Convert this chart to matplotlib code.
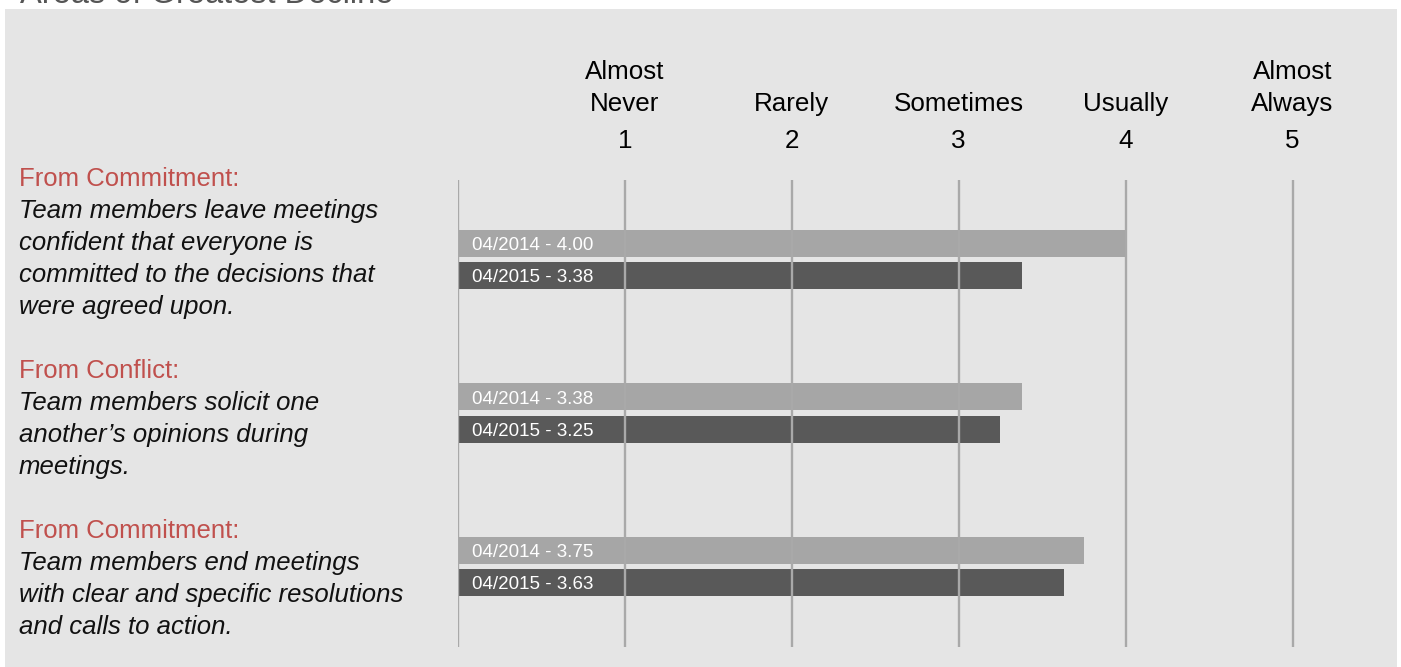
import matplotlib
matplotlib.use('Agg')
import matplotlib.pyplot as plt
from matplotlib.patches import Rectangle

plt.rcParams['font.family'] = ['Liberation Sans', 'DejaVu Sans']

# data
categories = ['From Commitment:', 'From Conflict:', 'From Commitment:']
statements = [
    'Team members leave meetings\nconfident that everyone is\ncommitted to the decisions that\nwere agreed upon.',
    'Team members solicit one\nanother\u2019s opinions during\nmeetings.',
    'Team members end meetings\nwith clear and specific resolutions\nand calls to action.',
]
period_2014 = '04/2014'
period_2015 = '04/2015'
scores_2014 = [4.00, 3.38, 3.75]
scores_2015 = [3.38, 3.25, 3.63]
scale_values = [1, 2, 3, 4, 5]
scale_labels = ['Almost\nNever', 'Rarely', 'Sometimes', 'Usually', 'Almost\nAlways']

W, H = 1401, 667
fig = plt.figure(figsize=(W / 100, H / 100), dpi=100)
fig.patch.set_facecolor('white')

# gray panel
fig.patches.append(Rectangle((5 / W, 0), (1397 - 5) / W, (H - 9) / H,
                             transform=fig.transFigure, facecolor='#e5e5e5',
                             edgecolor='none', zorder=-1))
# title, mostly cut off at the top (as in the original)
fig.text(20 / W, 1 - 3 / H, 'Areas of Greatest Decline', fontsize=23.5,
         color='#555555', va='baseline', ha='left')

# bar axes: x=0 at 458px, ~167 px per unit
px_unit = 166.9
ax_l, ax_r = 458, 1330
ax_top, ax_bot = 180, 647
ax = fig.add_axes([ax_l / W, 1 - ax_bot / H, (ax_r - ax_l) / W, (ax_bot - ax_top) / H])
ax.set_xlim(0, (ax_r - ax_l) / px_unit)
grp_px = 153.5
y0 = -(259.5 - ax_top) / grp_px
y1 = 2 + (ax_bot - 566.5) / grp_px
ax.set_ylim(y1, y0)
ax.set_facecolor('none')
ax.axis('off')

bar_h = 27 / grp_px
off = 16 / grp_px
ypos = list(range(len(scores_2014)))
ax.barh([y - off for y in ypos], scores_2014, height=bar_h, color='#a6a6a6', zorder=2)
ax.barh([y + off for y in ypos], scores_2015, height=bar_h, color='#595959', zorder=2)
for y, a, b in zip(ypos, scores_2014, scores_2015):
    ax.text(14 / px_unit, y - off, f'{period_2014} - {a:.2f}', color='white',
            fontsize=13.5, va='center_baseline', ha='left', zorder=4)
    ax.text(14 / px_unit, y + off, f'{period_2015} - {b:.2f}', color='white',
            fontsize=13.5, va='center_baseline', ha='left', zorder=4)

# vertical grid lines incl. the zero line
for v in [0] + scale_values:
    ax.axvline(v, color='#a9a9a9', lw=1.7, zorder=3)

# scale header
for v, lab in zip(scale_values, scale_labels):
    x = (458 + v * px_unit) / W
    fig.text(x, 1 - 141 / H, str(v), fontsize=18.7, ha='center', va='center')
    lines = lab.split('\n')
    for k, line in enumerate(reversed(lines)):
        fig.text(x, 1 - (104 - 32 * k) / H, line, fontsize=18.7, ha='center', va='center')

# left side statements
cat_y = [179, 371, 531]
for cy, cat, st in zip(cat_y, categories, statements):
    fig.text(19 / W, 1 - cy / H, cat, fontsize=18.5, color='#c0504d', va='center', ha='left')
    for k, line in enumerate(st.split('\n')):
        fig.text(19 / W, 1 - (cy + 32 * (k + 1)) / H, line, fontsize=18.5,
                 style='italic', color='#111111', va='center', ha='left')

fig.savefig('out.png', dpi=100)
